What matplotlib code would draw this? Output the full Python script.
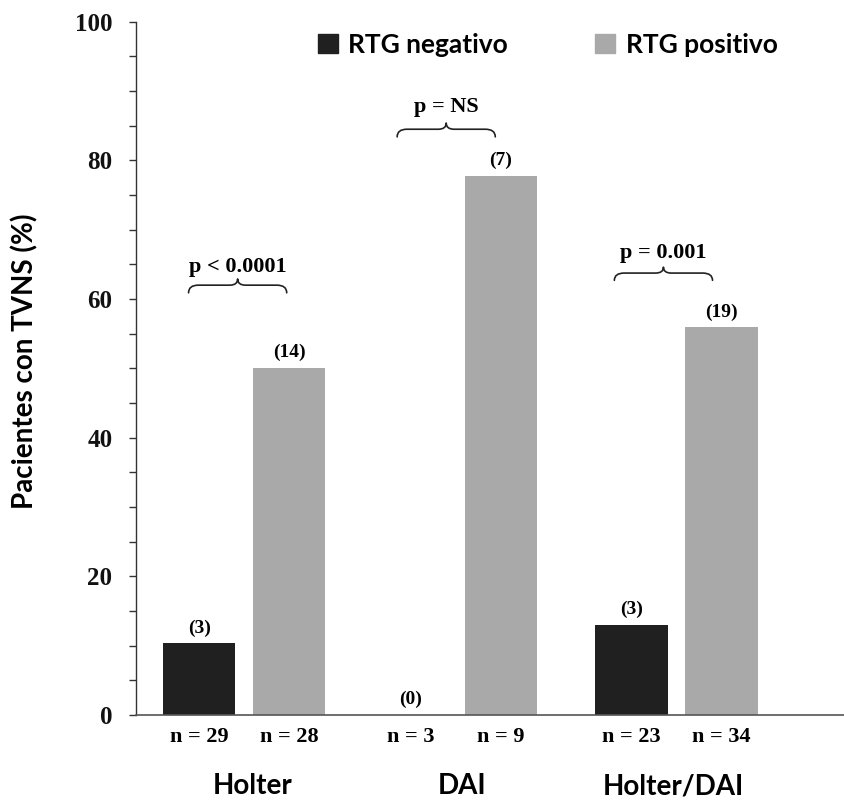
import matplotlib
matplotlib.use("Agg")
import matplotlib.pyplot as plt
from matplotlib.patches import Rectangle, PathPatch
from matplotlib.path import Path
import numpy as np

categories = ["Holter", "DAI", "Holter/DAI"]
neg_values = [10.3, 0.0, 13.0]
pos_values = [50.0, 77.8, 55.9]
neg_counts = ["(3)", "(0)", "(3)"]
pos_counts = ["(14)", "(7)", "(19)"]
neg_n = ["n = 29", "n = 3", "n = 23"]
pos_n = ["n = 28", "n = 9", "n = 34"]
p_labels = ["p < 0.0001", "p = NS", "p = 0.001"]
legend_labels = ["RTG negativo", "RTG positivo"]
yticks = [0, 20, 40, 60, 80, 100]

NEG_COLOR = "#202020"
POS_COLOR = "#a9a9a9"
SANS = "Lato"
SERIF = "Liberation Serif"

fig = plt.figure(figsize=(8.45, 8.05), dpi=100)
ax = fig.add_axes([0.161, 0.112, 0.839, 0.8609])

group_x = np.array([0.0, 0.98, 2.0])
label_shift = np.array([0.04, 0.03, -0.015])
off = 0.208
width = 0.335

ax.bar(group_x - off, neg_values, width, color=NEG_COLOR, label=legend_labels[0])
ax.bar(group_x + off, pos_values, width, color=POS_COLOR, label=legend_labels[1])

ax.set_xlim(-0.5, 2.78)
ax.set_ylim(0, 100)

for spine in ["top", "right"]:
    ax.spines[spine].set_visible(False)
ax.spines["left"].set_color("#333333")
ax.spines["bottom"].set_color("#555555")
ax.spines["left"].set_linewidth(1.0)
ax.spines["bottom"].set_linewidth(1.2)

ax.set_xticks([])
ax.set_yticks(yticks)
ax.set_yticks(np.arange(0, 101, 5), minor=True)
ax.tick_params(axis="y", which="both", direction="out", length=5, width=1, color="#333333")
ax.tick_params(axis="y", which="major", pad=12)
for lab in ax.get_yticklabels():
    lab.set_fontfamily(SERIF)
    lab.set_fontweight("bold")
    lab.set_fontsize(18)
    lab.set_color("#111111")

ax.set_ylabel("Pacientes con TVNS (%)", fontfamily=SANS, fontweight="bold", fontsize=20)
ax.yaxis.set_label_coords(-0.137, 0.51)

for i in range(3):
    ax.text(group_x[i] - off, neg_values[i] + 1.0, neg_counts[i], ha="center", va="bottom",
            fontfamily=SERIF, fontweight="bold", fontsize=14)
    ax.text(group_x[i] + off, pos_values[i] + 1.0, pos_counts[i], ha="center", va="bottom",
            fontfamily=SERIF, fontweight="bold", fontsize=14)
    ax.text(group_x[i] - off, -3.2, neg_n[i], ha="center", va="center",
            fontfamily=SERIF, fontweight="bold", fontsize=16, clip_on=False)
    ax.text(group_x[i] + off, -3.2, pos_n[i], ha="center", va="center",
            fontfamily=SERIF, fontweight="bold", fontsize=16, clip_on=False)
    ax.text(group_x[i] + label_shift[i], -10.3, categories[i], ha="center", va="center",
            fontfamily=SANS, fontweight="bold", fontsize=20, clip_on=False)


def brace(xc, half, y0, h, color="#222222"):
    x0, x1 = xc - half, xc + half
    w = x1 - x0
    ym = y0 + 0.55 * h
    verts = [
        (x0, y0),
        (x0, ym), (x0 + 0.1 * w, ym),
        (xc - 0.08 * w, ym),
        (xc, ym), (xc, y0 + h),
        (xc, ym), (xc + 0.08 * w, ym),
        (x1 - 0.1 * w, ym),
        (x1, ym), (x1, y0),
    ]
    codes = [Path.MOVETO,
             Path.CURVE3, Path.CURVE3,
             Path.LINETO,
             Path.CURVE3, Path.CURVE3,
             Path.CURVE3, Path.CURVE3,
             Path.LINETO,
             Path.CURVE3, Path.CURVE3]
    ax.add_patch(PathPatch(Path(verts, codes), fill=False, lw=1.2, edgecolor=color,
                           capstyle="round", joinstyle="round"))


brace_specs = [(-0.03, 0.227, 60.9, 2.0, 64.6),
               (0.935, 0.227, 83.4, 2.0, 87.7),
               (1.94, 0.227, 62.7, 1.9, 66.6)]
for (xc, half, y0, h, ty), pl in zip(brace_specs, p_labels):
    brace(xc, half, y0, h)
    ax.text(xc, ty, pl, ha="center", va="center", fontfamily=SERIF,
            fontweight="bold", fontsize=16)

handles = [Rectangle((0, 0), 1, 1, color=NEG_COLOR), Rectangle((0, 0), 1, 1, color=POS_COLOR)]
leg = fig.legend(handles, legend_labels, loc="center left",
                 bbox_to_anchor=(318 / 845, 1 - 45 / 805), ncol=2, frameon=False,
                 handlelength=0.75, handleheight=0.75, handletextpad=0.4,
                 columnspacing=3.3, borderpad=0, borderaxespad=0,
                 prop={"family": SANS, "weight": "bold", "size": 19})

fig.savefig("out.png", dpi=100, facecolor="white")
